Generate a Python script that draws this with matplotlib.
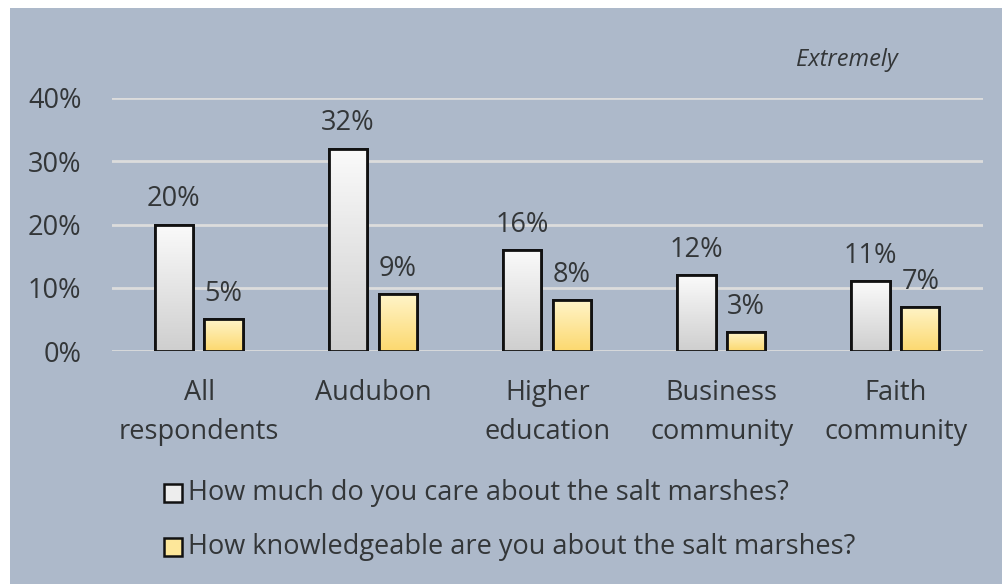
import matplotlib
matplotlib.use("Agg")
import matplotlib.pyplot as plt
import numpy as np
from matplotlib.patches import Rectangle

plt.rcParams["font.family"] = ["Open Sans", "DejaVu Sans"]

CATEGORIES = ["All\nrespondents", "Audubon", "Higher\neducation", "Business\ncommunity", "Faith\ncommunity"]
CARE = [20, 32, 16, 12, 11]
KNOW = [5, 9, 8, 3, 7]
SERIES = ["How much do you care about the salt marshes?",
          "How knowledgeable are you about the salt marshes?"]

BG = "#ADB9CA"
TXT = "#333638"
FS = 19.5

fig = plt.figure(figsize=(10.02, 5.84), dpi=100)
fig.patch.set_facecolor("white")
# shaded panel behind the whole chart
fig.patches.append(Rectangle((10 / 1002, 0), 1, 1 - 8 / 584, transform=fig.transFigure,
                             facecolor=BG, edgecolor="none", zorder=-10))

ax = fig.add_axes([112 / 1002, 1 - 351 / 584, 871 / 1002, (351 - 98) / 584])
ax.set_facecolor("none")
ax.set_yticks([0, 10, 20, 30, 40])
ax.set_yticklabels([f"{t}%" for t in [0, 10, 20, 30, 40]])
ax.yaxis.grid(True, color="#DCDCDC", linewidth=2)
ax.set_axisbelow(True)
for s in ax.spines.values():
    s.set_visible(False)
ax.tick_params(axis="both", length=0, labelsize=FS, labelcolor=TXT)
ax.tick_params(axis="y", pad=22)
ax.tick_params(axis="x", pad=20)
ax.set_xticks(range(len(CATEGORIES)))
ax.set_xticklabels(CATEGORIES, linespacing=1.55)

x = np.arange(len(CATEGORIES))
w = 0.22
grad = np.linspace(0, 1, 64).reshape(-1, 1)


def gradient_bars(xs, vals, top, bottom):
    cmap = matplotlib.colors.LinearSegmentedColormap.from_list("g", [bottom, top])
    bars = ax.bar(xs, vals, w, color=top, edgecolor="#111111", linewidth=2, zorder=3)
    for b in bars:
        x0, y0 = b.get_x(), b.get_y()
        im = ax.imshow(grad, cmap=cmap, aspect="auto", origin="lower",
                       extent=[x0, x0 + b.get_width(), y0, y0 + b.get_height()], zorder=3.5)
        im.set_clip_path(b)
        # re-draw the outline on top of the gradient
        ax.add_patch(Rectangle((x0, y0), b.get_width(), b.get_height(), fill=False,
                               edgecolor="#111111", linewidth=2, zorder=4))
        ax.annotate(f"{b.get_height():.0f}%", (x0 + b.get_width() / 2, y0 + b.get_height()),
                    xytext=(0, 8), textcoords="offset points", ha="center", va="bottom",
                    fontsize=FS, color=TXT, zorder=5)
    return bars


gradient_bars(x - 0.145, CARE, "#FAFAFA", "#CFCFCF")
gradient_bars(x + 0.14, KNOW, "#FFF4C8", "#FCD970")
ax.set_xlim(-0.5, 4.5)
ax.set_ylim(0, 40)

fig.text(796 / 1002, 1 - 60 / 584, "Extremely", fontsize=17, style="italic", color=TXT,
         ha="left", va="center")

legend_y = [493, 547]
swatch = [("#EDEDED", SERIES[0]), ("#FDE79A", SERIES[1])]
for yy, (fc, label) in zip(legend_y, swatch):
    fig.patches.append(Rectangle((164 / 1002, 1 - (yy + 9) / 584), 18 / 1002, 18 / 584,
                                 transform=fig.transFigure, facecolor=fc,
                                 edgecolor="#111111", linewidth=1.8, zorder=2))
    fig.text(188 / 1002, 1 - yy / 584, label, fontsize=FS, color=TXT, ha="left", va="center")

fig.savefig("out.png", dpi=100)
